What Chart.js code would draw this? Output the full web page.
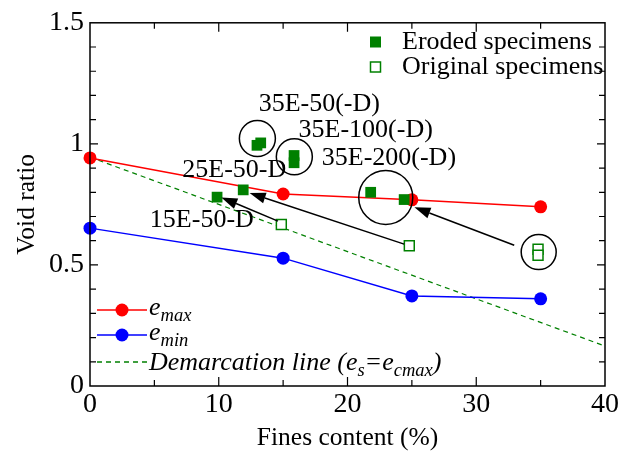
<!DOCTYPE html>
<html>
<head>
<meta charset="utf-8">
<script src="https://cdn.jsdelivr.net/npm/chart.js@4"></script>
<style>
  html, body { margin: 0; padding: 0; background: #fff; }
  #void-chart { display: block; }
</style>
</head>
<body>
<canvas id="void-chart" width="621" height="451"></canvas>
<script>
// values
const fines = [0, 15, 25, 35];
const eMax = [0.942, 0.793, 0.769, 0.740];
const eMin = [0.652, 0.528, 0.372, 0.360];

const demarcX = [0, 40];
const demarcY = [0.945, 0.165];

const erodedX = [12.97, 13.26, 15.85, 15.85, 21.8, 24.4, 11.9, 9.87];
const erodedY = [0.994, 1.004, 0.952, 0.922, 0.800, 0.770, 0.810, 0.780];

const originalX = [14.86, 24.8, 34.8, 34.8];
const originalY = [0.667, 0.579, 0.565, 0.540];

// arrows: original -> eroded
const arrowFromX = [14.6, 24.4, 32.95];
const arrowFromY = [0.681, 0.586, 0.581];
const arrowToX = [10.2, 12.4, 25.2];
const arrowToY = [0.779, 0.797, 0.738];

// circled groups
const circleX = [13.0, 15.87, 22.97, 34.85];
const circleY = [1.022, 0.947, 0.779, 0.553];

// specimen labels
const labelText = ['35E-50(-D)', '35E-100(-D)', '35E-200(-D)', '25E-50-D', '15E-50-D'];
const labelX = [13.1, 16.2, 18.0, 7.17, 4.65];
const labelY = [1.162, 1.056, 0.940, 0.891, 0.686];

const xTicks = [0, 10, 20, 30, 40];
const yTicks = [0, 0.5, 1, 1.5];

const legendTop = ['Eroded specimens', 'Original specimens'];

const SERIF = '"Liberation Serif", "Times New Roman", serif';
const GREEN = '#008000';

function pts(xs, ys) {
    return xs.map((x, i) => ({ x: x, y: ys[i] }));
}

// inward ticks, frame, arrows, circles, labels and both legends
const decorations = {
    id: 'decorations',
    afterDatasetsDraw(chart) {
        let ctx = chart.ctx;
        let xs = chart.scales.x, ys = chart.scales.y;
        let px = v => xs.getPixelForValue(v);
        let py = v => ys.getPixelForValue(v);
        let radii = [18, 18, 27, 17.5];

        ctx.save();
        ctx.strokeStyle = '#000';
        ctx.fillStyle = '#000';
        ctx.lineWidth = 1.5;

        circleX.forEach((cx, i) => {
            ctx.beginPath();
            ctx.arc(px(cx), py(circleY[i]), radii[i], 0, Math.PI * 2);
            ctx.stroke();
        });

        arrowFromX.forEach((fx, i) => {
            let x0 = px(fx), y0 = py(arrowFromY[i]);
            let x1 = px(arrowToX[i]), y1 = py(arrowToY[i]);
            let ang = Math.atan2(y1 - y0, x1 - x0);
            let len = 16, half = 5.5;
            let bx = x1 - len * Math.cos(ang), by = y1 - len * Math.sin(ang);
            ctx.beginPath();
            ctx.moveTo(x0, y0);
            ctx.lineTo(bx, by);
            ctx.stroke();
            ctx.beginPath();
            ctx.moveTo(x1, y1);
            ctx.lineTo(bx + half * Math.sin(ang), by - half * Math.cos(ang));
            ctx.lineTo(bx - half * Math.sin(ang), by + half * Math.cos(ang));
            ctx.closePath();
            ctx.fill();
        });

        ctx.font = '26px ' + SERIF;
        ctx.textAlign = 'left';
        ctx.textBaseline = 'middle';
        labelText.forEach((t, i) => {
            ctx.fillText(t, px(labelX[i]), py(labelY[i]));
        });
        ctx.restore();
    },
    afterDraw(chart) {
        let ctx = chart.ctx;
        let a = chart.chartArea;
        let xs = chart.scales.x, ys = chart.scales.y;

        ctx.save();
        ctx.strokeStyle = '#000';
        ctx.lineWidth = 1.5;
        ctx.strokeRect(a.left, a.top, a.right - a.left, a.bottom - a.top);

        ctx.lineWidth = 1.2;
        ctx.beginPath();
        for (let v = 5; v < 40; v += 5) {
            let x = xs.getPixelForValue(v);
            let l = v % 10 === 0 ? 9 : 6;
            ctx.moveTo(x, a.bottom); ctx.lineTo(x, a.bottom - l);
            ctx.moveTo(x, a.top); ctx.lineTo(x, a.top + l);
        }
        for (let k = 1; k < 15; k++) {
            let y = ys.getPixelForValue(k / 10);
            let l = k % 5 === 0 ? 8 : 6;
            ctx.moveTo(a.left, y); ctx.lineTo(a.left + l, y);
            ctx.moveTo(a.right, y); ctx.lineTo(a.right - l, y);
        }
        ctx.stroke();

        // top-right legend
        ctx.font = '26px ' + SERIF;
        ctx.textBaseline = 'middle';
        ctx.fillStyle = '#000';
        let rows = [42, 67];
        legendTop.forEach((t, i) => {
            ctx.fillText(t, 402, rows[i]);
        });
        ctx.fillStyle = GREEN;
        ctx.fillRect(370, rows[0] - 5.5, 11, 11);
        ctx.strokeStyle = GREEN;
        ctx.lineWidth = 1.5;
        ctx.strokeRect(370.5, rows[1] - 5, 10, 10);

        // bottom-left legend
        let lx0 = 97, lx1 = 147, tx = 149;
        let r1 = 310, r2 = 335, r3 = 362;
        ctx.lineWidth = 1.5;
        ctx.strokeStyle = 'red';
        ctx.fillStyle = 'red';
        ctx.beginPath(); ctx.moveTo(lx0, r1); ctx.lineTo(lx1, r1); ctx.stroke();
        ctx.beginPath(); ctx.arc(122, r1, 6.5, 0, Math.PI * 2); ctx.fill();
        ctx.strokeStyle = 'blue';
        ctx.fillStyle = 'blue';
        ctx.beginPath(); ctx.moveTo(lx0, r2); ctx.lineTo(lx1, r2); ctx.stroke();
        ctx.beginPath(); ctx.arc(122, r2, 6.5, 0, Math.PI * 2); ctx.fill();
        ctx.strokeStyle = GREEN;
        ctx.setLineDash([5, 4]);
        ctx.beginPath(); ctx.moveTo(lx0, r3); ctx.lineTo(lx1, r3); ctx.stroke();
        ctx.setLineDash([]);

        ctx.fillStyle = '#000';
        ctx.textBaseline = 'alphabetic';
        let big = 'italic 26px ' + SERIF, small = 'italic 18.5px ' + SERIF;
        // draws pieces [text, isSub] in a row
        function rich(parts, x, y) {
            parts.forEach(p => {
                ctx.font = p[1] ? small : big;
                ctx.fillText(p[0], x, p[1] ? y + 6 : y);
                x += ctx.measureText(p[0]).width;
            });
        }
        rich([['e', false], ['max', true]], tx, r1 + 5);
        rich([['e', false], ['min', true]], tx, r2 + 5);
        rich([['Demarcation line (e', false], ['s', true], ['=e', false], ['cmax', true], [')', false]], tx, r3 + 8);
        ctx.restore();
    }
};

let ctx = document.getElementById('void-chart').getContext('2d');
new Chart(ctx, {
    type: 'scatter',
    data: {
        datasets: [
            {
                label: 'Eroded specimens',
                data: pts(erodedX, erodedY),
                pointStyle: 'rect',
                pointRadius: 7.6,
                backgroundColor: GREEN,
                borderColor: GREEN,
                borderWidth: 0,
                clip: false
            },
            {
                label: 'Original specimens',
                data: pts(originalX, originalY),
                pointStyle: 'rect',
                pointRadius: 7,
                backgroundColor: '#fff',
                borderColor: GREEN,
                borderWidth: 1.5,
                clip: false
            },
            {
                label: 'emax',
                data: pts(fines, eMax),
                showLine: true,
                borderColor: 'red',
                backgroundColor: 'red',
                borderWidth: 1.5,
                pointRadius: 6.5,
                pointBorderWidth: 0,
                clip: false
            },
            {
                label: 'emin',
                data: pts(fines, eMin),
                showLine: true,
                borderColor: 'blue',
                backgroundColor: 'blue',
                borderWidth: 1.5,
                pointRadius: 6.5,
                pointBorderWidth: 0,
                clip: false
            },
            {
                label: 'Demarcation line',
                data: pts(demarcX, demarcY),
                showLine: true,
                borderColor: GREEN,
                borderWidth: 1.2,
                borderDash: [5, 4],
                pointRadius: 0
            }
        ]
    },
    options: {
        responsive: false,
        animation: false,
        devicePixelRatio: 1,
        layout: { padding: { top: 18, right: 15, left: 0, bottom: 0 } },
        plugins: {
            legend: { display: false },
            tooltip: { enabled: false }
        },
        scales: {
            x: {
                type: 'linear',
                min: 0,
                max: 40,
                afterFit: s => { s.height = 65; },
                afterBuildTicks: s => { s.ticks = xTicks.map(v => ({ value: v })); },
                grid: { display: false, drawTicks: false },
                border: { display: false },
                ticks: {
                    color: '#000',
                    font: { family: SERIF, size: 28 },
                    padding: 2,
                    maxRotation: 0,
                    autoSkip: false
                },
                title: {
                    display: true,
                    text: 'Fines content (%)',
                    color: '#000',
                    font: { family: SERIF, size: 25.5, lineHeight: 1 },
                    padding: { top: 0, bottom: 0 }
                }
            },
            y: {
                type: 'linear',
                min: 0,
                max: 1.5,
                afterFit: s => { s.width = 90; },
                afterBuildTicks: s => { s.ticks = yTicks.map(v => ({ value: v })); },
                grid: { display: false, drawTicks: false },
                border: { display: false },
                ticks: {
                    color: '#000',
                    font: { family: SERIF, size: 28 },
                    padding: 6,
                    autoSkip: false,
                    callback: v => String(v)
                },
                title: {
                    display: true,
                    text: 'Void ratio',
                    color: '#000',
                    font: { family: SERIF, size: 25.5, lineHeight: 1 },
                    padding: { top: 15, bottom: 0 }
                }
            }
        }
    },
    plugins: [decorations]
});
</script>
</body>
</html>
